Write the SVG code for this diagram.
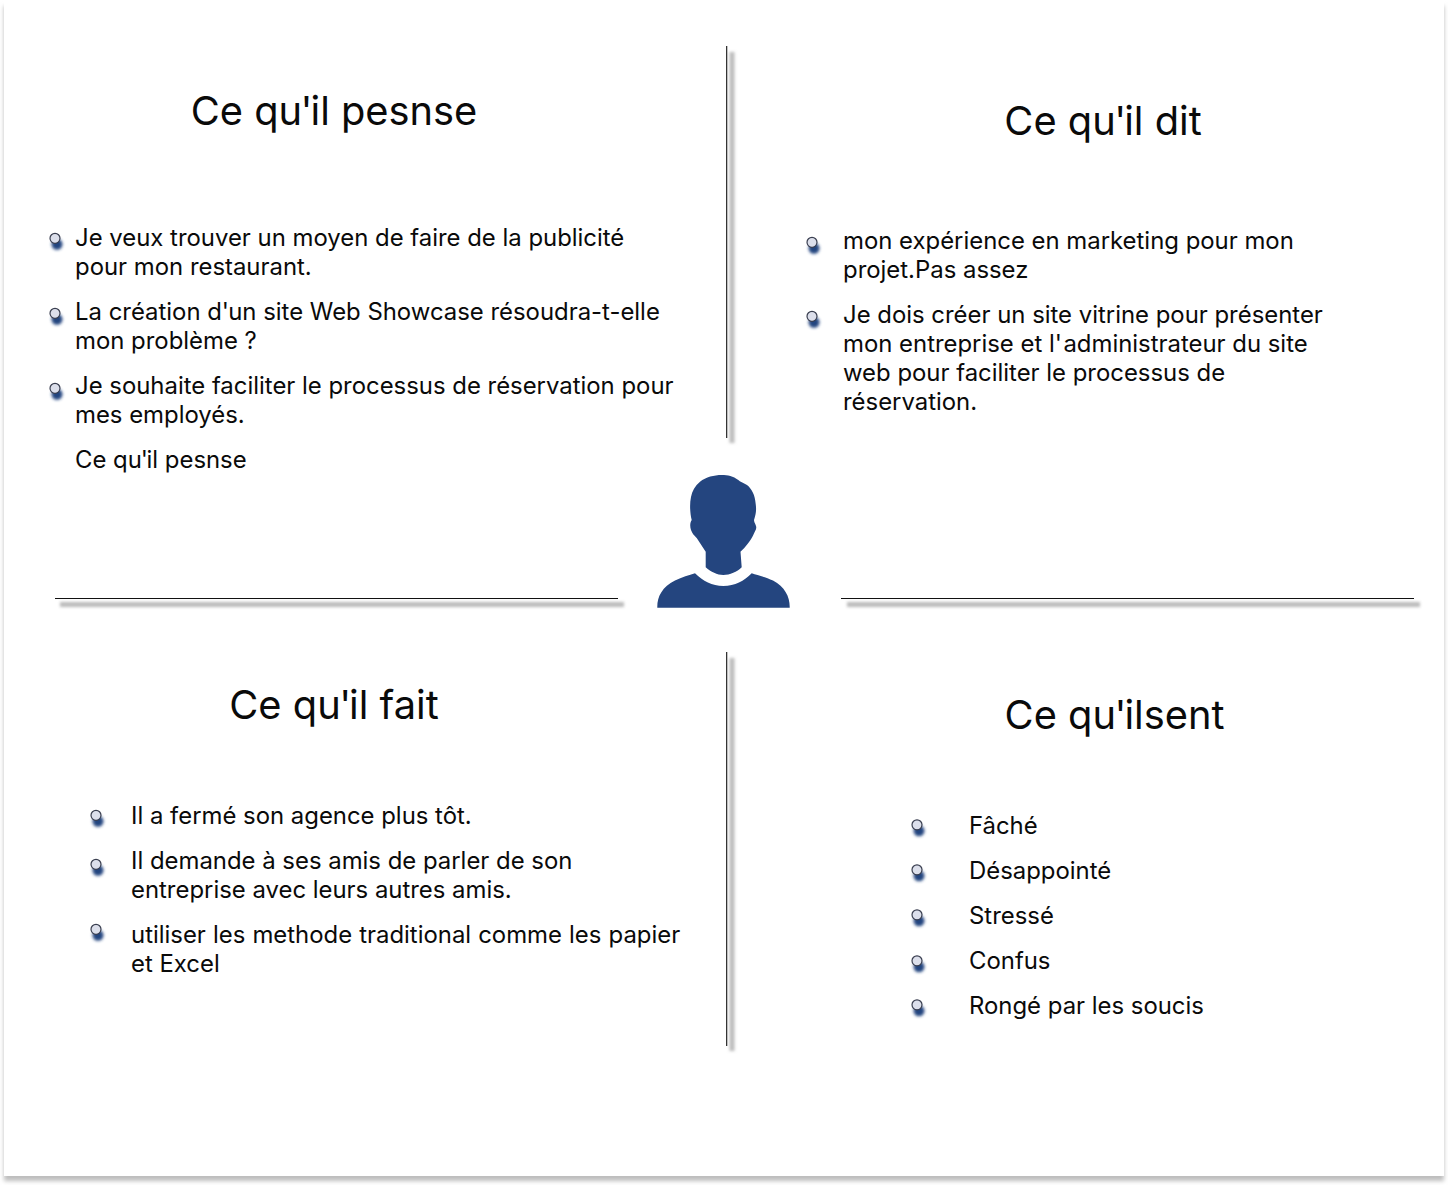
<svg xmlns="http://www.w3.org/2000/svg" width="1448" height="1185" viewBox="0 0 1448 1185">
<style>
text{font-family:Inter,"Liberation Sans",sans-serif;fill:#0a0a0a}
.t{font-size:39.8px}
.b{font-size:23.9px}
.ln{stroke:#111;stroke-width:1.1;fill:none}
.sh{stroke:#bbb;stroke-width:5;fill:none;filter:url(#s1)}
</style>
<defs>
<filter id="s1" x="-50" y="-50" width="1548" height="1285" filterUnits="userSpaceOnUse"><feGaussianBlur stdDeviation="1.5"/></filter>
<filter id="s2" x="-30" y="-30" width="1508" height="1245" filterUnits="userSpaceOnUse"><feGaussianBlur stdDeviation="2"/></filter>
<filter id="s3" x="-80%" y="-80%" width="260%" height="260%"><feGaussianBlur stdDeviation="1.5"/></filter>
<g id="dot"><circle cx="2" cy="6" r="5.5" fill="#24457f" filter="url(#s3)"/><circle cx="0" cy="0" r="5" fill="#dcdfeb" stroke="#3a3f50" stroke-width="1.2"/></g>
</defs>
<rect width="1448" height="1185" fill="#fff"/>
<rect x="4" y="6" width="1440" height="1175" fill="#bdbdbd" filter="url(#s2)"/>
<rect x="4" y="0" width="1440" height="1176" fill="#fff"/>

<g id="connectors">
<path class="sh" d="M732 52V443"/><path class="ln" d="M726.700 46V438"/>
<path class="sh" d="M732 658V1051"/><path class="ln" d="M726.700 652V1046"/>
<path class="sh" d="M60 604.500H624"/><path class="ln" d="M55 598.500H618"/>
<path class="sh" d="M847 604.500H1420"/><path class="ln" d="M841 598.500H1414"/>
</g>

<g id="person">
<path fill="#24457f" d="M657.300 607.700C657 597 662 587 675 580.500C682 577 689 575.500 695 573.300C703 581 712 586 723.300 586C735 586 744 581 751.700 573.300C758 575.500 766 577 773 580.500C785 587 790 597 789.700 607.700Z"/>
<path fill="#24457f" d="M705.700 567.300C711 572 717 575 723.300 575C730 575 737 572 741.700 567.300L740.500 551.700C745 548 751 540 753.300 535C755 531 757 529 756 526C755 523 754 522 754 520C756 514 756.500 510 755.700 504C755 495 752 489 747 485C743 482.500 740 482 738.300 480C733 476 728 475 721.700 475C714 475 706 477 700 481.700C695 486 692 491 691 497C689.500 504 690 513 691.700 520C690 523 689.800 526 691 530C692.500 534 694 535 696.700 538L705.700 551.700Z"/>
</g>

<g id="node-pense">
<text class="t" x="334" y="125" text-anchor="middle">Ce qu<tspan dx="-1.500">'</tspan><tspan dx="-2">il pesnse</tspan></text>
<use href="#dot" x="55" y="238.300"/><use href="#dot" x="55" y="313.300"/><use href="#dot" x="55" y="388.300"/>
<text class="b" x="75" y="246">Je veux trouver un moyen de faire de la publicité</text>
<text class="b" x="75" y="275">pour mon restaurant.</text>
<text class="b" x="75" y="320">La création d'<tspan dx="-0.800">un site Web Showcase résoudra-t-elle</tspan></text>
<text class="b" x="75" y="349">mon problème ?</text>
<text class="b" x="75" y="394">Je souhaite faciliter le processus de réservation pour</text>
<text class="b" x="75" y="423">mes employés.</text>
<text class="b" x="75" y="468">Ce qu<tspan dx="-1">'</tspan><tspan dx="-1.500">il pesnse</tspan></text>
</g>

<g id="node-dit">
<text class="t" x="1103" y="135" text-anchor="middle">Ce qu<tspan dx="-1.500">'</tspan><tspan dx="-2">il dit</tspan></text>
<use href="#dot" x="812" y="242.300"/><use href="#dot" x="812" y="316.300"/>
<text class="b" x="843" y="249">mon expérience en marketing pour mon</text>
<text class="b" x="843" y="278">projet.Pas assez</text>
<text class="b" x="843" y="323">Je dois créer un site vitrine pour présenter</text>
<text class="b" x="843" y="352">mon entreprise et l'<tspan dx="1.500">administrateur du site</tspan></text>
<text class="b" x="843" y="381">web pour faciliter le processus de</text>
<text class="b" x="843" y="410">réservation.</text>
</g>

<g id="node-fait">
<text class="t" x="334" y="719" text-anchor="middle">Ce qu<tspan dx="-1.500">'</tspan><tspan dx="-2">il fait</tspan></text>
<use href="#dot" x="96" y="815.300"/><use href="#dot" x="96" y="864.300"/><use href="#dot" x="96" y="929.300"/>
<text class="b" x="131" y="824">Il a fermé son agence plus tôt.</text>
<text class="b" x="131" y="869">Il demande à ses amis de parler de son</text>
<text class="b" x="131" y="898">entreprise avec leurs autres amis.</text>
<text class="b" x="131" y="943" word-spacing="0.4">utiliser les methode traditional comme les papier</text>
<text class="b" x="131" y="972">et Excel</text>
</g>

<g id="node-sent">
<text class="t" x="1114.500" y="729" text-anchor="middle">Ce qu<tspan dx="-1.500">'</tspan><tspan dx="-2">ilsent</tspan></text>
<use href="#dot" x="917" y="824.800"/><use href="#dot" x="917" y="869.800"/><use href="#dot" x="917" y="914.800"/><use href="#dot" x="917" y="960.800"/><use href="#dot" x="917" y="1004.800"/>
<text class="b" x="969" y="834">Fâché</text>
<text class="b" x="969" y="879">Désappointé</text>
<text class="b" x="969" y="924">Stressé</text>
<text class="b" x="969" y="969">Confus</text>
<text class="b" x="969" y="1014">Rongé par les soucis</text>
</g>
</svg>
